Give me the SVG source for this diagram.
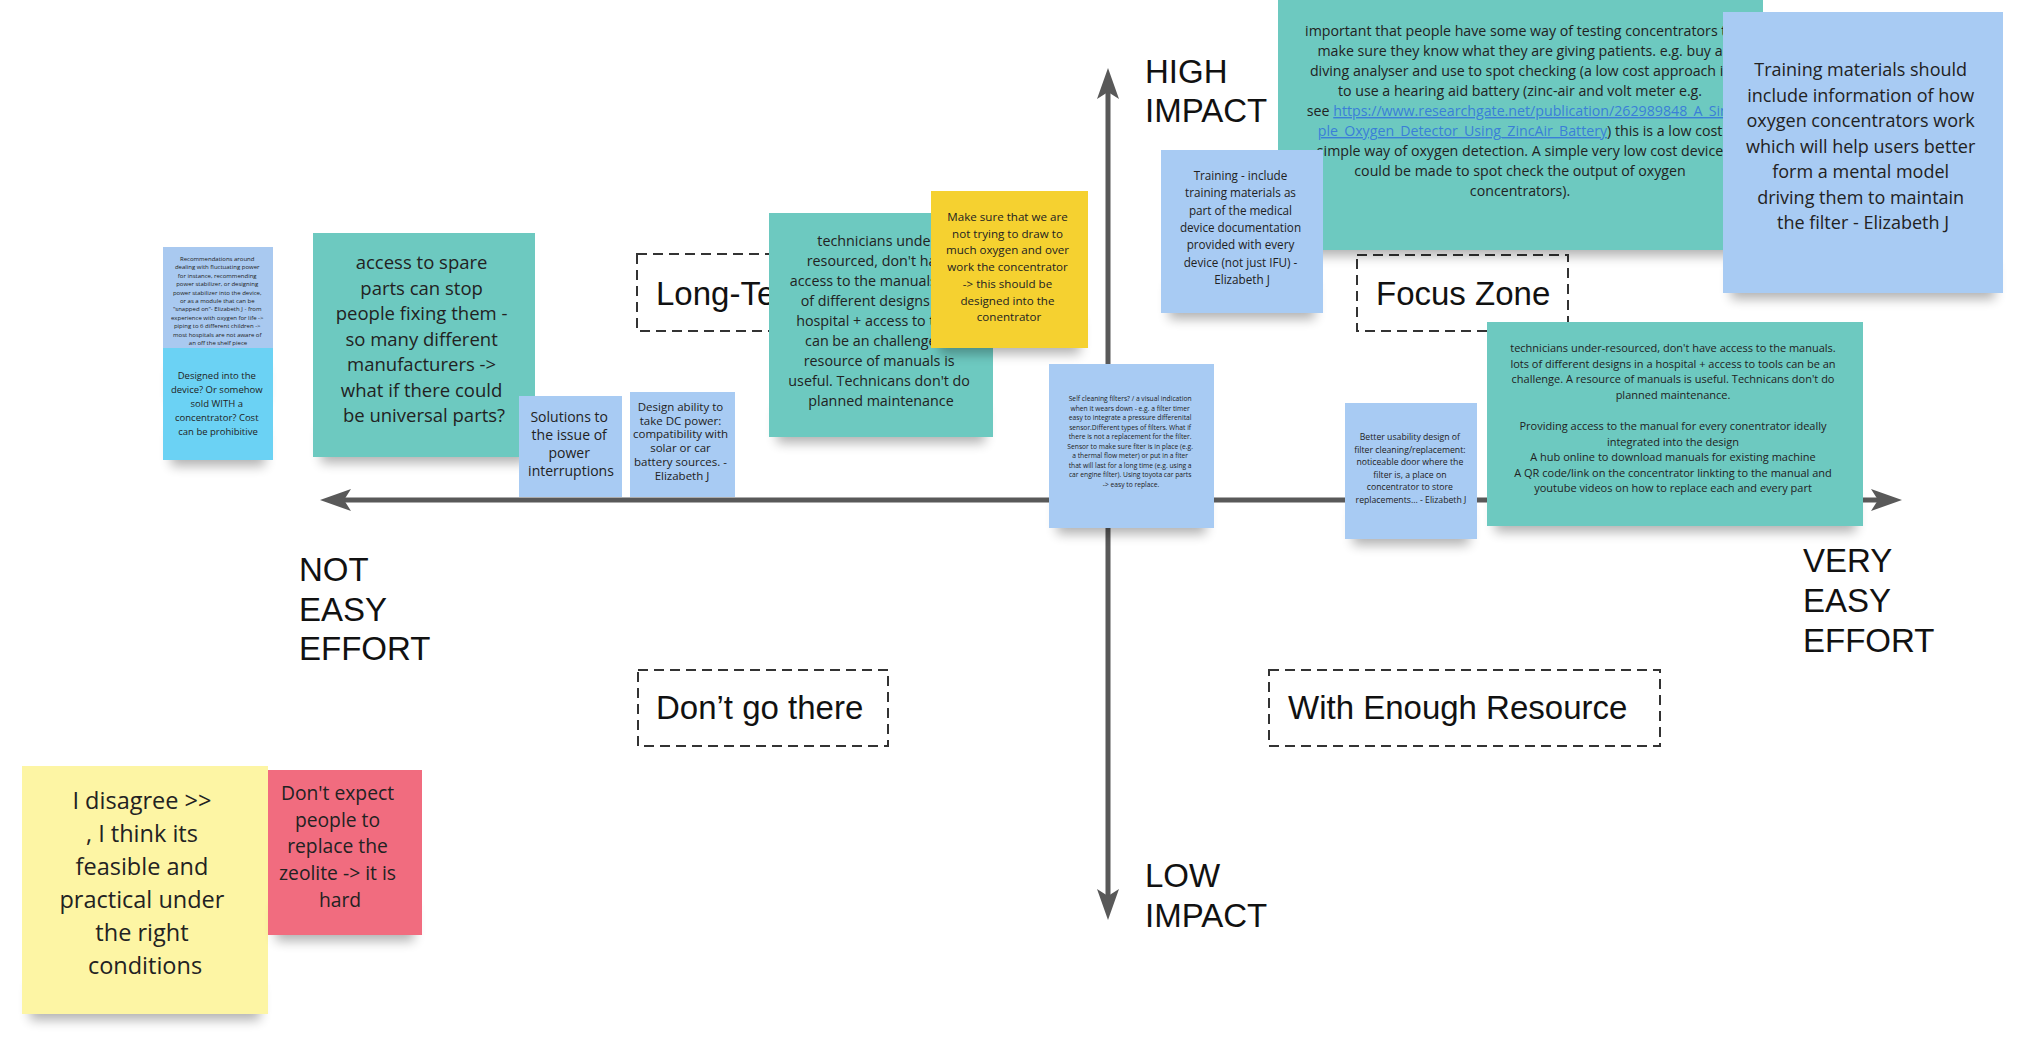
<svg xmlns="http://www.w3.org/2000/svg" width="2033" height="1045" viewBox="0 0 2033 1045">
<defs>
<style>
.t{font-family:"Open Sans","Noto Sans",sans-serif;fill:#222;text-anchor:middle}
.lbl{font-family:"Liberation Sans",Arial,sans-serif;font-size:33px;fill:#111}
.box{fill:none;stroke:#333;stroke-width:2;stroke-dasharray:10 6}
.sh{fill:#000;opacity:.3}
.teal{fill:#6dc9c0}
.blue{fill:#a8cbf3}
.lnk{fill:#3a7fd8;text-decoration:underline}
.axis{stroke:#595959;stroke-width:5;fill:none}
</style>
<filter id="blur" x="-20%" y="-60%" width="140%" height="220%"><feGaussianBlur stdDeviation="6"/></filter>
<marker id="ah" markerUnits="userSpaceOnUse" markerWidth="31" markerHeight="24" viewBox="0 0 31 24" refX="22" refY="12" orient="auto-start-reverse"><path d="M0,1 L31,12 L0,23 L7,12 Z" fill="#595959"/></marker>
</defs>
<rect width="2033" height="1045" fill="#fff"/>

<g id="zones">
<g id="zone-long-term"><rect class="box" x="637" y="254" width="200" height="77"/><text class="lbl" x="656" y="305">Long-Te</text></g>
<g id="zone-focus"><rect class="box" x="1357" y="255" width="211" height="76"/><text class="lbl" x="1376" y="305">Focus Zone</text></g>
<g id="zone-dont"><rect class="box" x="638" y="670" width="250" height="76"/><text class="lbl" x="656" y="719">Don’t go there</text></g>
<g id="zone-resource"><rect class="box" x="1269" y="670" width="391" height="76"/><text class="lbl" x="1288" y="719">With Enough Resource</text></g>
</g>

<g id="axis-labels">
<text class="lbl" x="1145" y="83">HIGH</text><text class="lbl" x="1145" y="122">IMPACT</text>
<text class="lbl" x="1145" y="887">LOW</text><text class="lbl" x="1145" y="927">IMPACT</text>
<text class="lbl" x="299" y="581">NOT</text><text class="lbl" x="299" y="621">EASY</text><text class="lbl" x="299" y="660">EFFORT</text>
<text class="lbl" x="1803" y="572">VERY</text><text class="lbl" x="1803" y="612">EASY</text><text class="lbl" x="1803" y="652">EFFORT</text>
</g>

<g id="connectors">
<path class="axis" d="M1108,911 L1108,77" marker-start="url(#ah)" marker-end="url(#ah)"/>
<path class="axis" d="M329,500 L1893,500" marker-start="url(#ah)" marker-end="url(#ah)"/>
</g>

<g id="note-recommendations">
<rect class="sh" x="171" y="367" width="94" height="36" filter="url(#blur)"/>
<rect x="163" y="247" width="110" height="150" fill="#a9c9f0"/>
<text class="t" x="218" y="261" font-size="6">
<tspan x="218" dy="0">Recommendations around</tspan>
<tspan x="218" dy="8.4">dealing with fluctuating power</tspan>
<tspan x="218" dy="8.4">for instance, recommending</tspan>
<tspan x="218" dy="8.4">power stabilizer, or designing</tspan>
<tspan x="218" dy="8.4">power stabilizer into the device,</tspan>
<tspan x="218" dy="8.4">or as a module that can be</tspan>
<tspan x="218" dy="8.4">"snapped on"- Elizabeth J - from</tspan>
<tspan x="218" dy="8.4">experience with oxygen for life -&gt;</tspan>
<tspan x="218" dy="8.4">piping to 6 different children -&gt;</tspan>
<tspan x="218" dy="8.4">most hospitals are not aware of</tspan>
<tspan x="218" dy="8.4">an off the shelf piece</tspan>
</text>
</g>

<g id="note-designed-into">
<rect class="sh" x="171" y="430" width="94" height="36" filter="url(#blur)"/>
<rect x="163" y="348" width="110" height="112" fill="#6bd2f4"/>
<text class="t" x="218" y="378.5" font-size="9.5">
<tspan x="218" dy="0">Designed into the</tspan>
<tspan x="218" dy="14">device? Or somehow</tspan>
<tspan x="218" dy="14">sold WITH a</tspan>
<tspan x="218" dy="14">concentrator? Cost</tspan>
<tspan x="218" dy="14">can be prohibitive</tspan>
</text>
</g>

<g id="note-spare-parts">
<rect class="sh" x="321" y="427" width="206" height="36" filter="url(#blur)"/>
<rect class="teal" x="313" y="233" width="222" height="224"/>
<text class="t" x="424" y="269" font-size="18.5">
<tspan x="424" dy="0">access to spare</tspan>
<tspan x="424" dy="25.5">parts can stop</tspan>
<tspan x="424" dy="25.5">people fixing them -</tspan>
<tspan x="424" dy="25.5">so many different</tspan>
<tspan x="424" dy="25.5">manufacturers -&gt;</tspan>
<tspan x="424" dy="25.5">what if there could</tspan>
<tspan x="424" dy="25.5">be universal parts?</tspan>
</text>
</g>

<g id="note-power-interruptions">
<rect x="519" y="396" width="103" height="101" class="blue"/>
<text class="t" x="571" y="422" font-size="14">
<tspan x="571" dy="0">Solutions to</tspan>
<tspan x="571" dy="18">the issue of</tspan>
<tspan x="571" dy="18">power</tspan>
<tspan x="571" dy="18">interruptions</tspan>
</text>
</g>

<g id="note-dc-power">
<rect x="630" y="392" width="105" height="105" class="blue"/>
<text class="t" x="682" y="411" font-size="11.5">
<tspan x="682" dy="0">Design ability to</tspan>
<tspan x="682" dy="13.7">take DC power:</tspan>
<tspan x="682" dy="13.7">compatibility with</tspan>
<tspan x="682" dy="13.7">solar or car</tspan>
<tspan x="682" dy="13.7">battery sources. -</tspan>
<tspan x="682" dy="13.7">Elizabeth J</tspan>
</text>
</g>

<g id="note-technicians-left">
<rect class="sh" x="777" y="407" width="208" height="36" filter="url(#blur)"/>
<rect class="teal" x="769" y="213" width="224" height="224"/>
<text class="t" x="881" y="245.5" font-size="14.3">
<tspan x="881" dy="0">technicians under-</tspan>
<tspan x="881" dy="20">resourced, don't have</tspan>
<tspan x="881" dy="20">access to the manuals. lots</tspan>
<tspan x="881" dy="20">of different designs in a</tspan>
<tspan x="881" dy="20">hospital + access to tools</tspan>
<tspan x="881" dy="20">can be an challenge. A</tspan>
<tspan x="881" dy="20">resource of manuals is</tspan>
<tspan x="881" dy="20">useful. Technicans don't do</tspan>
<tspan x="881" dy="20">planned maintenance</tspan>
</text>
</g>

<g id="note-oxygen-draw">
<rect class="sh" x="939" y="318" width="141" height="36" filter="url(#blur)"/>
<rect x="931" y="191" width="157" height="157" fill="#f5d130"/>
<text class="t" x="1009" y="221" font-size="11.6">
<tspan x="1009" dy="0">Make sure that we are</tspan>
<tspan x="1009" dy="16.7">not trying to draw to</tspan>
<tspan x="1009" dy="16.7">much oxygen and over</tspan>
<tspan x="1009" dy="16.7">work the concentrator</tspan>
<tspan x="1009" dy="16.7">-&gt; this should be</tspan>
<tspan x="1009" dy="16.7">designed into the</tspan>
<tspan x="1009" dy="16.7">conentrator</tspan>
</text>
</g>

<g id="note-self-cleaning">
<rect class="sh" x="1057" y="498" width="149" height="36" filter="url(#blur)"/>
<rect x="1049" y="364" width="165" height="164" class="blue"/>
<text class="t" x="1131" y="401" font-size="6.7">
<tspan x="1131" dy="0">Self cleaning filters? / a visual indication</tspan>
<tspan x="1131" dy="9.5">when it wears down - e.g. a filter timer</tspan>
<tspan x="1131" dy="9.5">easy to integrate a pressure differenital</tspan>
<tspan x="1131" dy="9.5">sensor.Different types of filters. What if</tspan>
<tspan x="1131" dy="9.5">there is not a replacement for the filter.</tspan>
<tspan x="1131" dy="9.5">Sensor to make sure fiter is in place (e.g.</tspan>
<tspan x="1131" dy="9.5">a thermal flow meter) or put in a fiter</tspan>
<tspan x="1131" dy="9.5">that will last for a long time (e.g. using a</tspan>
<tspan x="1131" dy="9.5">car engine filter). Using toyota car parts</tspan>
<tspan x="1131" dy="9.5">-&gt; easy to replace.</tspan>
</text>
</g>

<g id="note-testing-concentrators">
<rect class="sh" x="1286" y="220" width="469" height="36" filter="url(#blur)"/>
<rect class="teal" x="1278" y="-20" width="485" height="270"/>
<g class="t" font-size="14.2">
<text x="1520" y="36">important that people have some way of testing concentrators to</text>
<text x="1520" y="56">make sure they know what they are giving patients. e.g. buy a</text>
<text x="1520" y="76">diving analyser and use to spot checking (a low cost approach is</text>
<text x="1520" y="96">to use a hearing aid battery (zinc-air  and volt meter e.g.</text>
<text x="1520" y="116">see <tspan class="lnk">https://www.researchgate.net/publication/262989848_A_Sim</tspan></text>
<text x="1520" y="136"><tspan class="lnk">ple_Oxygen_Detector_Using_ZincAir_Battery</tspan>) this is a low cost</text>
<text x="1520" y="156">simple way of oxygen detection. A simple very low cost device</text>
<text x="1520" y="176">could be made to spot check the output of oxygen</text>
<text x="1520" y="196">concentrators).</text>
</g>
</g>

<g id="note-training-include">
<rect class="sh" x="1169" y="283" width="146" height="36" filter="url(#blur)"/>
<rect x="1161" y="150" width="162" height="163" class="blue"/>
<text class="t" x="1242" y="180" font-size="11.7">
<tspan x="1242" dy="0">Training - include</tspan>
<tspan x="1242" dy="17.3">training materials as</tspan>
<tspan x="1242" dy="17.3">part of the medical</tspan>
<tspan x="1242" dy="17.3">device documentation</tspan>
<tspan x="1242" dy="17.3">provided with every</tspan>
<tspan x="1242" dy="17.3">device (not just IFU) -</tspan>
<tspan x="1242" dy="17.3">Elizabeth J</tspan>
</text>
</g>

<g id="note-training-materials">
<rect class="sh" x="1731" y="263" width="264" height="36" filter="url(#blur)"/>
<rect x="1723" y="12" width="280" height="281" class="blue"/>
<text class="t" x="1863" y="76" font-size="18">
<tspan x="1863" dy="0">Training materials should</tspan>
<tspan x="1863" dy="25.5">include information of how</tspan>
<tspan x="1863" dy="25.5">oxygen concentrators work</tspan>
<tspan x="1863" dy="25.5">which will help users better</tspan>
<tspan x="1863" dy="25.5">form a mental model</tspan>
<tspan x="1863" dy="25.5">driving them to maintain</tspan>
<tspan x="1863" dy="25.5">the filter - Elizabeth J</tspan>
</text>
</g>

<g id="note-better-usability">
<rect class="sh" x="1353" y="509" width="116" height="36" filter="url(#blur)"/>
<rect x="1345" y="403" width="132" height="136" class="blue"/>
<text class="t" x="1411" y="440" font-size="8.7">
<tspan x="1411" dy="0">Better usability design of</tspan>
<tspan x="1411" dy="12.6">filter cleaning/replacement:</tspan>
<tspan x="1411" dy="12.6">noticeable door where the</tspan>
<tspan x="1411" dy="12.6">filter is, a place on</tspan>
<tspan x="1411" dy="12.6">concentrator to store</tspan>
<tspan x="1411" dy="12.6">replacements... - Elizabeth J</tspan>
</text>
</g>

<g id="note-technicians-right">
<rect class="sh" x="1495" y="496" width="361" height="36" filter="url(#blur)"/>
<rect class="teal" x="1487" y="322" width="376" height="204"/>
<g class="t" font-size="11">
<text x="1673" y="352">technicians under-resourced, don't have access to the manuals.</text>
<text x="1673" y="367.6">lots of different designs in a hospital + access to tools can be an</text>
<text x="1673" y="383.2">challenge. A resource of manuals is useful. Technicans don't do</text>
<text x="1673" y="398.8">planned maintenance.</text>
<text x="1673" y="430">Providing access to the manual for every conentrator ideally</text>
<text x="1673" y="445.6">integrated into the design</text>
<text x="1673" y="461.2">A hub online to download manuals for existing machine</text>
<text x="1673" y="476.8">A QR code/link on the concentrator linkting to the manual and</text>
<text x="1673" y="492.4">youtube videos on how to replace each and every part</text>
</g>
</g>

<g id="note-disagree">
<rect class="sh" x="30" y="984" width="230" height="36" filter="url(#blur)"/>
<rect x="22" y="766" width="246" height="248" fill="#fdf5a4"/>
<text class="t" x="145" y="809" font-size="23.5">
<tspan x="145" dy="0">I disagree &gt;&gt;</tspan>
<tspan x="145" dy="33">, I think its</tspan>
<tspan x="145" dy="33">feasible and</tspan>
<tspan x="145" dy="33">practical under</tspan>
<tspan x="145" dy="33">the right</tspan>
<tspan x="145" dy="33">conditions</tspan>
</text>
</g>

<g id="note-zeolite">
<rect class="sh" x="276" y="905" width="138" height="36" filter="url(#blur)"/>
<rect x="268" y="770" width="154" height="165" fill="#f16c7f"/>
<text class="t" x="340" y="800" font-size="19.3">
<tspan x="340" dy="0">Don't expect</tspan>
<tspan x="340" dy="26.7">people to</tspan>
<tspan x="340" dy="26.7">replace the</tspan>
<tspan x="340" dy="26.7">zeolite -&gt; it is</tspan>
<tspan x="340" dy="26.7">hard</tspan>
</text>
</g>
</svg>
